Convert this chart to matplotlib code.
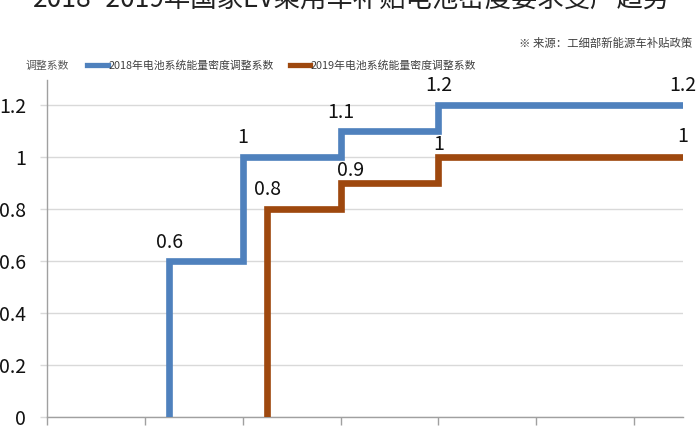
import matplotlib
matplotlib.use("Agg")
import matplotlib.pyplot as plt
from matplotlib.lines import Line2D

plt.rcParams["font.family"] = ["Noto Sans CJK SC", "DejaVu Sans"]

# energy density breakpoints (Wh/kg) and adjustment coefficients
density_2018 = [105, 120, 140, 160]
coef_2018 = [0.6, 1.0, 1.1, 1.2]
density_2019 = [125, 140, 160]
coef_2019 = [0.8, 0.9, 1.0]
x_end = 210
x_ticks = [80, 100, 120, 140, 160, 180, 200]
y_ticks = [0, 0.2, 0.4, 0.6, 0.8, 1.0, 1.2]

label_2018 = "2018年电池系统能量密度调整系数"
label_2019 = "2019年电池系统能量密度调整系数"
title = "2018~2019年国家EV乘用车补贴电池密度要求变严趋势"
source = "※ 来源：工细部新能源车补贴政策"

blue = "#4F81BD"
brown = "#9E480E"


def fmt(v):
    return "%g" % v


def step_line(ax, xs, ys, color):
    px = [xs[0]] + xs + [x_end]
    py = [0] + ys + [ys[-1]]
    ax.step(px, py, where="post", color=color, lw=4.8,
            solid_joinstyle="miter", solid_capstyle="butt", zorder=3)


fig = plt.figure(figsize=(7, 4.29), dpi=100)
ax = fig.add_axes([47 / 700, 1 - 417 / 429, 636 / 700, 337 / 429])

step_line(ax, density_2018, coef_2018, blue)
step_line(ax, density_2019, coef_2019, brown)

# data labels (offsets in points, tuned to avoid overlaps)
off_2018 = [(0, 13), (0, 14), (0, 13), (0, 14)]
off_2019 = [(0, 14), (7, 9), (0, 9)]
for x, y, o in zip(density_2018 + [x_end], coef_2018 + [coef_2018[-1]],
                   off_2018 + [(0, 14)]):
    ax.annotate(fmt(y), (x, y), xytext=o, textcoords="offset points",
                ha="center", va="center", fontsize=14, color="#111111",
                annotation_clip=False)
for x, y, o in zip(density_2019 + [x_end], coef_2019 + [coef_2019[-1]],
                   off_2019 + [(0, 15)]):
    ax.annotate(fmt(y), (x, y), xytext=o, textcoords="offset points",
                ha="center", va="center", fontsize=14, color="#111111",
                annotation_clip=False)

ax.set_xlim(80, x_end)
ax.set_ylim(0, 1.296)
ax.set_xticks(x_ticks)
ax.set_yticks(y_ticks)
ax.set_yticklabels([fmt(v) for v in y_ticks])
ax.tick_params(axis="x", direction="out", length=5.5, width=1,
               color="#A0A0A0", labelbottom=False)
ax.tick_params(axis="y", direction="out", length=5, width=1,
               color="#D9D9D9", labelsize=14, labelcolor="#111111", pad=10)
ax.grid(axis="y", color="#D9D9D9", lw=1)
ax.set_axisbelow(True)
for s in ["top", "right"]:
    ax.spines[s].set_visible(False)
for s in ["left", "bottom"]:
    ax.spines[s].set_color("#A0A0A0")
    ax.spines[s].set_linewidth(1)

# legend row with the y axis name
fig.text(26 / 700, 1 - 66 / 429, "调整系数", fontsize=7.8, color="#595959",
         ha="left", va="center")
handles = [Line2D([], [], color=blue, lw=3.8),
           Line2D([], [], color=brown, lw=3.8)]
fig.legend(handles, [label_2018, label_2019], loc="center left",
           bbox_to_anchor=(87 / 700, 1 - 66 / 429), ncol=2, frameon=False,
           fontsize=7.8, handlelength=1.9, handletextpad=0.05,
           columnspacing=1.5, borderpad=0, borderaxespad=0,
           labelcolor="#404040")

fig.text(692 / 700, 1 - 43 / 429, source, fontsize=8.2, color="#404040",
         ha="right", va="center")
fig.text(33 / 700, 1 - 8 / 429, title, fontsize=19, color="#222222",
         ha="left", va="baseline")

fig.savefig("out.png", dpi=100)
